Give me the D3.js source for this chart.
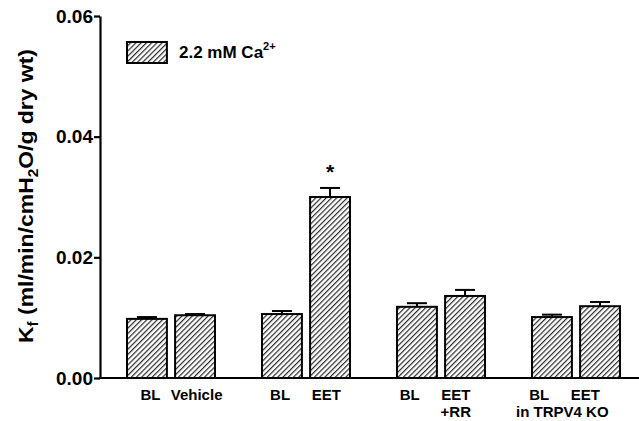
<!DOCTYPE html>
<html>
<head>
<meta charset="utf-8">
<script src="https://cdn.jsdelivr.net/npm/d3@7"></script>
<style>
  html, body { margin: 0; padding: 0; background: #fff; }
  svg { display: block; font-family: "Liberation Sans", Arial, sans-serif; font-weight: bold; }
</style>
</head>
<body>
<svg id="chart" width="639" height="421"></svg>
<script>
// ---- data ----
const groups = ["Vehicle", "EET", "EET+RR", "TRPV4 KO"];
const conditions = ["BL", "Treatment"];
const barLabels = ["BL", "Vehicle", "BL", "EET", "BL", "EET", "BL", "EET"];
const barSubLabels = ["", "", "", "", "", "+RR", "", ""];
const groupSubLabels = ["", "", "", "in TRPV4 KO"];
const values = [0.0098, 0.0104, 0.0106, 0.0300, 0.0118, 0.0136, 0.0101, 0.0119];
const errors = [0.0003, 0.0002, 0.0005, 0.0015, 0.0006, 0.0010, 0.0004, 0.0007];
const significant = [false, false, false, true, false, false, false, false];
const yTicks = [0, 0.02, 0.04, 0.06];
const legendLabel = "2.2 mM Ca";
const legendSup = "2+";

// ---- layout ----
const svg = d3.select("#chart");
const W = 639, H = 421;
const axisX = 100;

const y = d3.scaleLinear().domain([0, 0.06]).range([378, 16]);
const xGroup = d3.scaleBand().domain(groups).range([103.5, 643.5]).padding(0);
const xInner = d3.scaleBand().domain(conditions).range([23.5, 111.5]).paddingInner(0.17);

const bars = values.map((v, i) => ({
  v, e: errors[i], label: barLabels[i], sub: barSubLabels[i], sig: significant[i],
  g: groups[Math.floor(i / 2)], c: conditions[i % 2]
}));
const bx = d => xGroup(d.g) + xInner(d.c);
const bw = xInner.bandwidth();
const c0 = bx(bars[0]) + bw / 2;
const labelX = c => c0 + (c - c0) * 0.96 + 3.5;

// hatch pattern
const defs = svg.append("defs");
const pat = defs.append("pattern")
  .attr("id", "hatch").attr("patternUnits", "userSpaceOnUse")
  .attr("width", 3.7).attr("height", 3.7)
  .attr("patternTransform", "rotate(45)");
pat.append("rect").attr("width", 3.7).attr("height", 3.7).attr("fill", "#fff");
pat.append("line").attr("x1", 0.6).attr("y1", 0).attr("x2", 0.6).attr("y2", 3.7)
  .attr("stroke", "#2a2a2a").attr("stroke-width", 1.2);

// bars
svg.append("g").selectAll("rect").data(bars).join("rect")
  .attr("x", bx).attr("width", bw)
  .attr("y", d => y(d.v)).attr("height", d => y(0) - y(d.v))
  .attr("fill", "url(#hatch)").attr("stroke", "#000").attr("stroke-width", 2);

// error bars
const eg = svg.append("g").attr("stroke", "#000").attr("stroke-width", 2);
bars.forEach(d => {
  const cx = bx(d) + bw / 2;
  eg.append("line").attr("x1", cx).attr("x2", cx).attr("y1", y(d.v)).attr("y2", y(d.v + d.e));
  eg.append("line").attr("x1", cx - 10).attr("x2", cx + 10).attr("y1", y(d.v + d.e)).attr("y2", y(d.v + d.e));
});

// significance
bars.filter(d => d.sig).forEach(d => {
  svg.append("text").attr("x", bx(d) + bw / 2).attr("y", y(d.v + d.e) - 9)
    .attr("text-anchor", "middle").attr("font-size", 21).text("*");
});

// y axis
const yAxis = svg.append("g").attr("transform", `translate(${axisX},0)`)
  .call(d3.axisLeft(y).tickValues(yTicks).tickFormat(d3.format(".2f")).tickSize(6).tickSizeOuter(0));
yAxis.select(".domain").attr("stroke", "#000").attr("stroke-width", 2.2);
yAxis.selectAll(".tick line").attr("stroke", "#000").attr("stroke-width", 2.2);
yAxis.selectAll(".tick text").attr("font-size", 19).attr("font-weight", "bold")
  .attr("font-family", "Liberation Sans, Arial, sans-serif").attr("fill", "#000").attr("x", -7);

// x axis line
svg.append("line").attr("x1", axisX - 1).attr("x2", W).attr("y1", y(0)).attr("y2", y(0))
  .attr("stroke", "#000").attr("stroke-width", 2.2);

// x labels
const xl = svg.append("g").attr("font-size", 15).attr("text-anchor", "middle");
bars.forEach(d => {
  const lx = labelX(bx(d) + bw / 2);
  xl.append("text").attr("x", lx).attr("y", 400).text(d.label);
  if (d.sub) xl.append("text").attr("x", lx).attr("y", 417).text(d.sub);
});
groups.forEach((g, i) => {
  if (!groupSubLabels[i]) return;
  const a = labelX(bx(bars[2 * i]) + bw / 2), b = labelX(bx(bars[2 * i + 1]) + bw / 2);
  xl.append("text").attr("x", (a + b) / 2).attr("y", 417).text(groupSubLabels[i]);
});

// y label
const yl = svg.append("text").attr("transform", "translate(33,196) rotate(-90)")
  .attr("text-anchor", "middle").attr("font-size", 21)
  .attr("textLength", 294).attr("lengthAdjust", "spacingAndGlyphs");
yl.append("tspan").text("K");
yl.append("tspan").attr("font-size", 14).attr("dy", 5).text("f");
yl.append("tspan").attr("dy", -5).text(" (ml/min/cmH");
yl.append("tspan").attr("font-size", 14).attr("dy", 5).text("2");
yl.append("tspan").attr("dy", -5).text("O/g dry wt)");

// legend
svg.append("rect").attr("x", xGroup(groups[0]) + xInner(conditions[0])).attr("y", 42)
  .attr("width", bw).attr("height", 21)
  .attr("fill", "url(#hatch)").attr("stroke", "#000").attr("stroke-width", 2);
const lt = svg.append("text").attr("x", 179).attr("y", 58).attr("font-size", 17);
lt.append("tspan").text(legendLabel);
lt.append("tspan").attr("font-size", 11).attr("dy", -8).text(legendSup);
</script>
</body>
</html>
